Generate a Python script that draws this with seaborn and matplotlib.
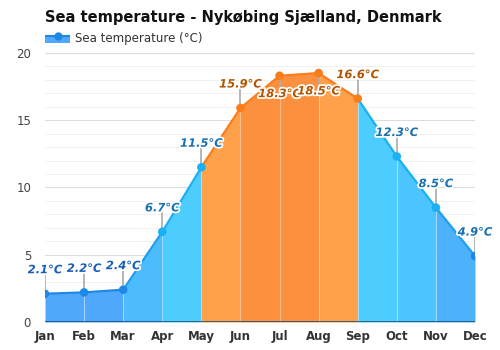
import matplotlib
matplotlib.use("Agg")
import matplotlib.pyplot as plt
import matplotlib.patheffects as pe
import seaborn as sns
import pandas as pd
import numpy as np

months = ["Jan", "Feb", "Mar", "Apr", "May", "Jun", "Jul", "Aug", "Sep", "Oct", "Nov", "Dec"]
sea_temp = [2.1, 2.2, 2.4, 6.7, 11.5, 15.9, 18.3, 18.5, 16.6, 12.3, 8.5, 4.9]
segment_fill = ["#4fa8fb", "#4fa8fb", "#4cbcfd", "#4dcdfd", "#ffa04a", "#fb913f",
                "#fb913f", "#ffa04a", "#4dcdfd", "#4cc4fd", "#4cb2fb"]
segment_line = ["#1e88e5", "#1e88e5", "#1e9ef0", "#1ab0f5", "#fb7d1a", "#fb7d1a",
                "#fb7d1a", "#fb7d1a", "#1ab0f5", "#1ab0f5", "#1e9ef0"]
point_color = ["#1e88e5", "#1e88e5", "#1e88e5", "#1ab0f5", "#1ab0f5", "#fb7d1a",
               "#fb7d1a", "#fb7d1a", "#fb7d1a", "#1ab0f5", "#1ab0f5", "#1e88e5"]
label_color = ["#1a5cb8", "#1a5cb8", "#1a5cb8", "#1a70b0", "#1a70b0", "#b35400",
               "#b35400", "#b35400", "#b35400", "#1a70b0", "#1a70b0", "#1a70b0"]
label_below = [False, False, False, False, False, False, True, True, False, False, False, False]

df = pd.DataFrame({"x": np.arange(len(months)), "month": months, "temp": sea_temp})

sns.set_style("white")
fig = plt.figure(figsize=(5, 3.5), dpi=100)
ax = fig.add_axes([0.09, 0.08, 0.86, 0.769])

x = df["x"].to_numpy()
y = df["temp"].to_numpy()

for v in np.arange(0, 21, 1):
    ax.axhline(v, color="#dddddd" if v % 5 == 0 else "#eeeeee", lw=0.8 if v % 5 == 0 else 0.6, zorder=0)

for i in range(len(x) - 1):
    ax.fill_between(x[i:i + 2], 0, y[i:i + 2], color=segment_fill[i], lw=0, zorder=1)
    sns.lineplot(x=x[i:i + 2], y=y[i:i + 2], color=segment_line[i], lw=1.6, ax=ax, zorder=3)

for i in range(1, len(x) - 1):
    ax.plot([x[i], x[i]], [0, y[i]], color="white", alpha=0.35, lw=0.8, zorder=2)

sns.scatterplot(data=df, x="x", y="temp", hue="month", palette=point_color, s=38,
                edgecolor="none", legend=False, ax=ax, zorder=4)

for i in range(len(x)):
    if label_below[i]:
        ax.plot([x[i], x[i]], [y[i] - 0.3, y[i] - 1.0], color="#aaaaaa", lw=1.2, zorder=2.5)
        ty, va = y[i] - 0.85, "top"
    else:
        ax.plot([x[i], x[i]], [y[i] + 0.3, y[i] + 1.4], color="#aaaaaa", lw=1.2, zorder=2.5)
        ty, va = y[i] + 1.3, "bottom"
    ax.text(x[i], ty, f"{sea_temp[i]}°C", ha="center", va=va, fontsize=8.3,
            fontstyle="italic", fontweight="bold", color=label_color[i], zorder=6,
            path_effects=[pe.withStroke(linewidth=2.5, foreground="white")])

ax.axhline(0, color="#1f4e79", lw=1.2, zorder=5)

ax.set_xlim(0, 11)
ax.set_ylim(0, 20)
ax.set_xticks(x)
ax.set_xticklabels(months, fontsize=8.5, fontweight="bold", color="#333333")
ax.set_yticks([0, 5, 10, 15, 20])
ax.set_yticklabels(["0", "5", "10", "15", "20"], fontsize=8.5, color="#444444")
ax.tick_params(axis="x", length=0, pad=6)
ax.tick_params(axis="y", length=0, pad=10)
ax.set_xlabel("")
ax.set_ylabel("")
for s in ax.spines.values():
    s.set_visible(False)

fig.text(0.09, 0.95, "Sea temperature - Nykøbing Sjælland, Denmark", fontsize=10.5,
         fontweight="bold", color="#111111", va="center", ha="left")

lax = fig.add_axes([0.09, 0.875, 0.05, 0.035])
lax.axis("off")
lax.set_xlim(0, 1)
lax.set_ylim(0, 1)
lax.fill_between([0, 1], 0.05, 0.6, color="#4fa8fb", lw=0)
lax.plot([0, 1], [0.6, 0.6], color="#1e88e5", lw=1.5)
lax.plot([0.5], [0.6], marker="o", color="#1e88e5", markersize=5)
fig.text(0.15, 0.891, "Sea temperature (°C)", fontsize=8.5, color="#333333", va="center", ha="left")

fig.savefig("out.png", dpi=100)
